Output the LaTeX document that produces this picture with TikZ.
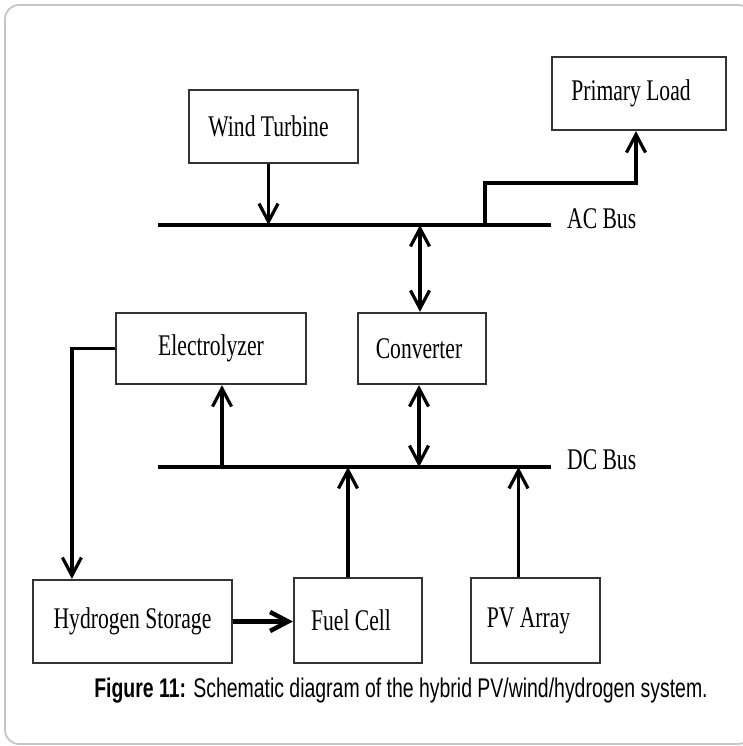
\documentclass[tikz,border=0pt]{standalone}
\usepackage{fontspec}
\newfontfamily\blockfont[FakeStretch=0.72]{Liberation Serif}
\newfontfamily\capfont[FakeStretch=0.72]{Liberation Sans}
\usetikzlibrary{arrows.meta, positioning, calc}

\begin{document}
\begin{tikzpicture}[x=1pt, y=-1pt,
    block/.style={draw=black!80, line width=2.2pt, fill=white, inner sep=0pt,
        font=\blockfont\fontsize{30}{32}\selectfont},
    bus/.style={line width=4pt},
    flow/.style={line width=3.2pt, -{Straight Barb[length=18pt, width=19pt]}},
    flowboth/.style={line width=3.2pt, {Straight Barb[length=18pt, width=19pt]}-{Straight Barb[length=18pt, width=19pt]}},
    buslabel/.style={anchor=west, inner sep=0pt, font=\blockfont\fontsize{30}{32}\selectfont}]
    \useasboundingbox (0,0) rectangle (742,746);

    % Frame
    \draw[gray!45, line width=1.8pt, rounded corners=14pt] (5,5) rectangle (752,744);

    % Blocks
    \node[block, minimum width=169, minimum height=73] (wt) at (273.5,126.5) {\hspace*{-10pt}Wind Turbine};
    \node[block, minimum width=174, minimum height=73] (load) at (639,93.5) {\hspace*{-16pt}Primary Load};
    \node[block, minimum width=190, minimum height=71] (elec) at (211,348.5) {Electrolyzer};
    \node[block, minimum width=128, minimum height=71] (conv) at (422,348.5) {\hspace*{-6pt}Converter};
    \node[block, minimum width=199, minimum height=83] (h2) at (132.5,621.5) {Hydrogen Storage};
    \node[block, minimum width=128, minimum height=85] (fc) at (358,620.5) {\hspace*{-14pt}Fuel Cell};
    \node[block, minimum width=129, minimum height=85] (pv) at (535.5,620.5) {\hspace*{-14pt}PV Array};

    % AC bus
    \coordinate (acL) at (158,225);
    \coordinate (acR) at (551,225);
    \draw[bus] (acL) -- (acR);
    \node[buslabel] (aclab) at (567,219) {AC Bus};

    % DC bus
    \coordinate (dcL) at (158,467);
    \coordinate (dcR) at (551,467);
    \draw[bus] (dcL) -- (dcR);
    \node[buslabel] (dclab) at (567,460) {DC Bus};

    % Connections to the AC bus
    \draw[flow] ([xshift=-5]wt.south) -- ([xshift=-5]wt.south |- acL);
    \coordinate (tap) at (485,225);
    \draw[flow] (tap) -- ++(0,-42) -| ([xshift=-3]load.south);
    \draw[flowboth] ([xshift=-2]conv.north |- acL) -- ([xshift=-2]conv.north);

    % Connections to the DC bus
    \draw[flow] ([xshift=11]elec.south |- dcL) -- ([xshift=11]elec.south);
    \draw[flowboth] ([xshift=-3]conv.south) -- ([xshift=-3]conv.south |- dcL);
    \draw[flow] ([xshift=-10]fc.north) -- ([xshift=-10]fc.north |- dcL);
    \draw[flow] ([xshift=-17]pv.north) -- ([xshift=-17]pv.north |- dcL);

    % Hydrogen path
    \coordinate (h2in) at ($(h2.north west)+(40,0)$);
    \draw[flow] (elec.west) -| (h2in);
    \draw[flow, line width=4.5pt] (h2.east) -- (h2.east -| fc.west);

    % Caption
    \node[font=\capfont\fontsize{27}{29}\selectfont] (cap) at (401,691)
        {\textbf{Figure 11:} Schematic diagram of the hybrid PV/wind/hydrogen system.};
\end{tikzpicture}
\end{document}
